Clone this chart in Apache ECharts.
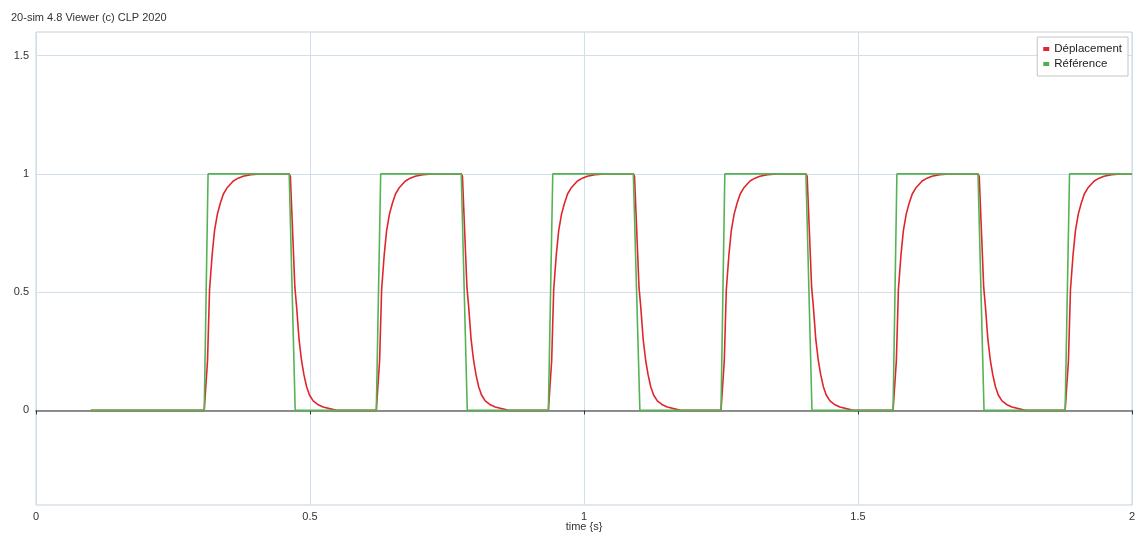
<!DOCTYPE html>
<html>
<head>
<meta charset="utf-8">
<script src="https://cdn.jsdelivr.net/npm/echarts@6/dist/echarts.min.js"></script>
<style>html,body{margin:0;padding:0;background:#fff}#c{width:1141px;height:534px}</style>
</head>
<body>
<div id="c"></div>
<script>
// Square-wave reference edges (time in s)
const riseStart = [0.307, 0.621, 0.935, 1.250, 1.564, 1.878];
const riseEnd   = [0.314, 0.629, 0.943, 1.257, 1.571, 1.886];
const fallStart = [0.462, 0.776, 1.090, 1.405, 1.719];
const fallEnd   = [0.473, 0.787, 1.102, 1.416, 1.730];
const startTime = 0.1;
const endTime = 2.0;

// Displacement response shape after each edge (offset s, value)
const riseDt = [0, 0.0036, 0.006, 0.0097, 0.0145, 0.0188, 0.024, 0.0292, 0.035, 0.0414, 0.053, 0.062, 0.071, 0.085, 0.102];
const riseV  = [0, 0, 0.21, 0.51, 0.66, 0.76, 0.83, 0.875, 0.915, 0.94, 0.97, 0.982, 0.99, 0.997, 1.0];
const fallDt = [0, 0.0022, 0.0104, 0.0135, 0.018, 0.0226, 0.027, 0.0318, 0.037, 0.0438, 0.052, 0.062, 0.0865];
const fallV  = [1, 0.99, 0.52, 0.44, 0.30, 0.21, 0.15, 0.10, 0.065, 0.04, 0.025, 0.014, 0];

const xTicks = [0, 0.5, 1, 1.5, 2];
const yTicks = [0, 0.5, 1, 1.5];
const seriesNames = ['Déplacement', 'Référence'];

const green = [[startTime, 0]];
const red = [[startTime, 0]];
for (let k = 0; k < riseStart.length; k++) {
  green.push([riseStart[k], 0], [riseEnd[k], 1]);
  for (let i = 0; i < riseDt.length; i++) red.push([riseStart[k] + riseDt[i], riseV[i]]);
  if (k < fallStart.length) {
    green.push([fallStart[k], 1], [fallEnd[k], 0]);
    for (let i = 0; i < fallDt.length; i++) red.push([fallStart[k] + fallDt[i], fallV[i]]);
  }
}
green.push([endTime, 1]);
red.push([endTime, 1]);

const font = 'Liberation Sans, Arial, sans-serif';
const chart = echarts.init(document.getElementById('c'), null, {renderer: 'canvas'});
chart.setOption({
  animation: false,
  title: {
    text: '20-sim 4.8 Viewer (c) CLP 2020',
    left: 6, top: 7,
    textStyle: {fontSize: 11, fontWeight: 'normal', color: '#333', fontFamily: font}
  },
  legend: {
    data: seriesNames,
    orient: 'vertical',
    right: 13, top: 37,
    padding: [6, 6, 6, 6],
    itemGap: 3,
    itemWidth: 6, itemHeight: 4,
    icon: 'rect',
    backgroundColor: '#fff',
    borderColor: '#c4c4c4', borderWidth: 1,
    textStyle: {fontSize: 11.5, color: '#222', fontFamily: font}
  },
  grid: {
    left: 36, right: 9, top: 32, bottom: 29,
    containLabel: false, outerBoundsMode: 'none',
    show: true, borderColor: '#c3d0dc', borderWidth: 1, backgroundColor: '#fff'
  },
  xAxis: [{
    type: 'value', min: 0, max: 2, interval: 0.5,
    position: 'bottom',
    name: 'time {s}', nameLocation: 'middle', nameGap: 22, nameMoveOverlap: false,
    nameTextStyle: {fontSize: 11, color: '#333', fontFamily: font, verticalAlign: 'middle'},
    axisLine: {show: false, onZero: false},
    axisTick: {show: false},
    axisLabel: {fontSize: 11, color: '#333', fontFamily: font, margin: 6,
      formatter: v => xTicks.indexOf(v) >= 0 ? String(v) : ''},
    splitLine: {show: true, lineStyle: {color: '#cfdfec', width: 1}}
  }, {
    type: 'value', min: 0, max: 2, interval: 0.5,
    position: 'bottom',
    axisLine: {show: true, onZero: true, lineStyle: {color: '#6e6e6e', width: 1.5}},
    axisTick: {show: true, length: 4, lineStyle: {color: '#333', width: 1}},
    axisLabel: {show: false},
    splitLine: {show: false}
  }],
  yAxis: {
    type: 'value', min: -0.4, max: 1.6,
    axisLine: {show: false},
    axisTick: {show: false, customValues: yTicks},
    axisLabel: {fontSize: 11, color: '#333', fontFamily: font, margin: 7, customValues: yTicks},
    splitLine: {show: true, lineStyle: {color: '#cfdfec', width: 1}}
  },
  series: [{
    name: seriesNames[0], type: 'line', data: red, xAxisIndex: 0,
    showSymbol: false, symbol: 'none',
    color: '#e0262d',
    lineStyle: {color: '#e0262d', width: 1.6}
  }, {
    name: seriesNames[1], type: 'line', data: green, xAxisIndex: 0,
    showSymbol: false, symbol: 'none',
    color: '#4fb04f',
    lineStyle: {color: '#55b355', width: 1.6}
  }]
});
</script>
</body>
</html>
